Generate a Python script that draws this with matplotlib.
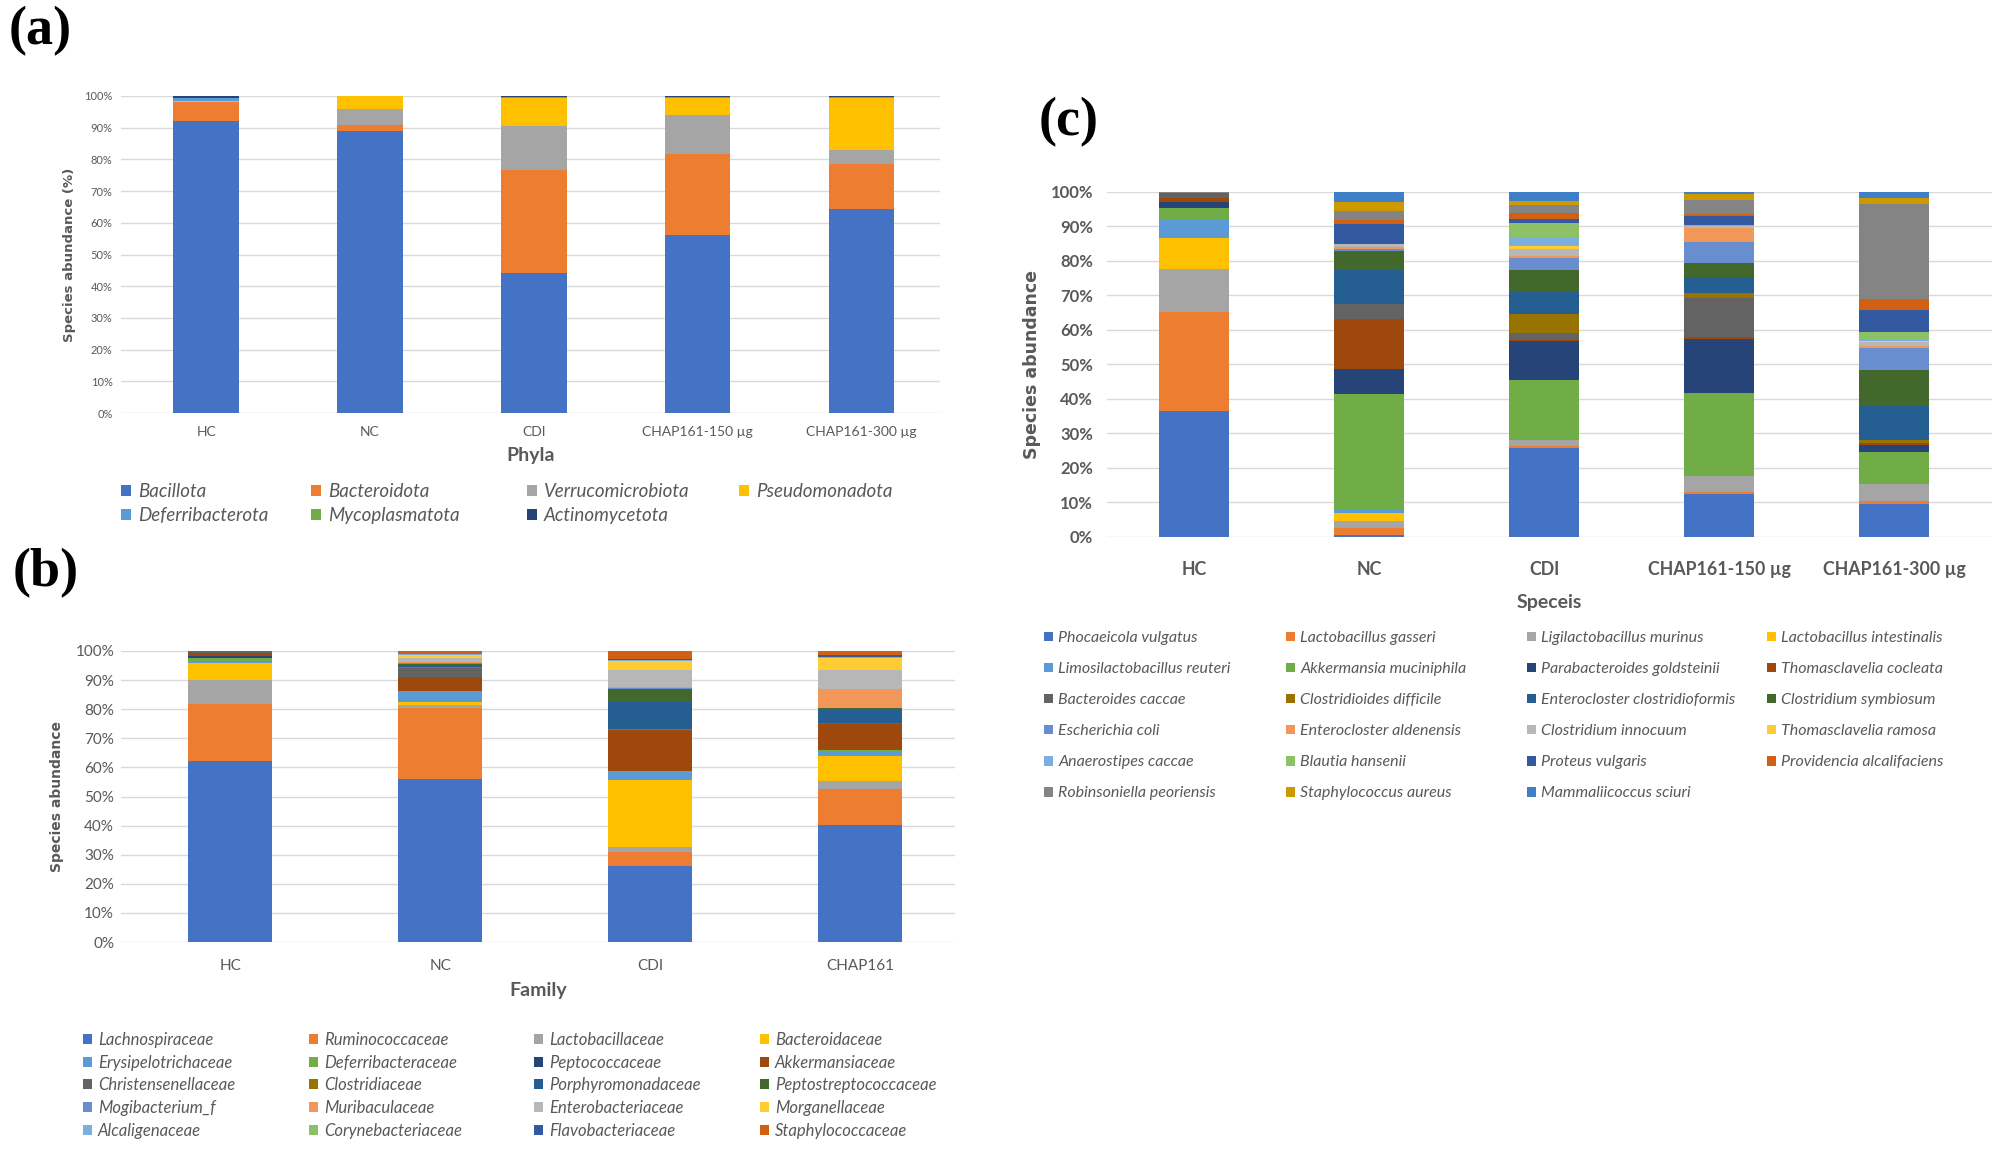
import numpy as np
import matplotlib.pyplot as plt
from matplotlib.patches import Patch

plt.rcParams['font.family'] = ['Lato', 'DejaVu Sans']

# ---------------- data ----------------
# (a) phyla, values per group in the order of phyla_names
phyla_groups = ['HC', 'NC', 'CDI', 'CHAP161-150 µg', 'CHAP161-300 µg']
phyla_names = ['Bacillota', 'Bacteroidota', 'Verrucomicrobiota', 'Pseudomonadota',
               'Deferribacterota', 'Mycoplasmatota', 'Actinomycetota']
phy_hc = [92.1, 6.0, 0.1, 0.1, 1.0, 0.2, 0.5]
phy_nc = [88.9, 1.9, 5.2, 3.9, 0.1, 0.0, 0.0]
phy_cdi = [44.1, 32.7, 13.7, 8.9, 0.3, 0.0, 0.3]
phy_150 = [56.1, 25.7, 12.1, 5.6, 0.2, 0.0, 0.3]
phy_300 = [64.2, 14.2, 4.5, 16.6, 0.2, 0.0, 0.3]

# (b) families
fam_groups = ['HC', 'NC', 'CDI', 'CHAP161']
fam_names = ['Lachnospiraceae', 'Ruminococcaceae', 'Lactobacillaceae', 'Bacteroidaceae',
             'Erysipelotrichaceae', 'Deferribacteraceae', 'Peptococcaceae', 'Akkermansiaceae',
             'Christensenellaceae', 'Clostridiaceae', 'Porphyromonadaceae', 'Peptostreptococcaceae',
             'Mogibacterium_f', 'Muribaculaceae', 'Enterobacteriaceae', 'Morganellaceae',
             'Alcaligenaceae', 'Corynebacteriaceae', 'Flavobacteriaceae', 'Staphylococcaceae']
fam_hc = [62.3, 19.5, 8.2, 5.8, 0.9, 0.8, 0.8, 0.9, 0.8, 0, 0, 0, 0, 0, 0, 0, 0, 0, 0, 0]
fam_nc = [56.2, 24.4, 1.1, 0.9, 3.4, 0.3, 0.2, 4.8, 3.2, 0.2, 0.8, 0.2, 0.3, 0.3,
          1.5, 1.1, 0.1, 0.0, 0.2, 1.0]
fam_cdi = [26.4, 4.6, 2.0, 23.2, 2.9, 0.1, 0.1, 14.0, 0.2, 0.1, 9.5, 4.6, 0.2, 0.2,
           6.1, 3.0, 0.3, 0.2, 0.2, 2.8]
fam_chap = [40.4, 12.4, 2.6, 8.8, 1.8, 0.1, 0.1, 9.0, 0.3, 0.1, 4.4, 0.5, 0.2, 6.4,
            6.5, 4.4, 0.3, 0.1, 0.4, 1.5]

# (c) species
sp_groups = ['HC', 'NC', 'CDI', 'CHAP161-150 µg', 'CHAP161-300 µg']
sp_names = ['Phocaeicola vulgatus', 'Lactobacillus gasseri', 'Ligilactobacillus murinus',
            'Lactobacillus intestinalis', 'Limosilactobacillus reuteri', 'Akkermansia muciniphila',
            'Parabacteroides goldsteinii', 'Thomasclavelia cocleata', 'Bacteroides caccae',
            'Clostridioides difficile', 'Enterocloster clostridioformis', 'Clostridium symbiosum',
            'Escherichia coli', 'Enterocloster aldenensis', 'Clostridium innocuum',
            'Thomasclavelia ramosa', 'Anaerostipes caccae', 'Blautia hansenii',
            'Proteus vulgaris', 'Providencia alcalifaciens', 'Robinsoniella peoriensis',
            'Staphylococcus aureus', 'Mammaliicoccus sciuri']
sp_hc = [36.5, 28.7, 12.6, 8.9, 5.4, 3.2, 1.7, 1.4, 1.2, 0, 0, 0, 0, 0, 0, 0, 0, 0,
         0.2, 0, 0.2, 0, 0]
sp_nc = [0.7, 1.9, 2.1, 2.4, 0.6, 33.8, 7.3, 14.5, 4.1, 0.0, 9.9, 5.5, 0.6, 0.7, 0.9,
         0.0, 0.0, 0.0, 5.8, 1.2, 2.5, 2.6, 2.9]
sp_cdi = [25.8, 0.6, 1.6, 0.2, 0.3, 17.1, 11.1, 0.5, 1.9, 5.6, 6.5, 6.1, 3.7, 0.5, 1.9,
          1.0, 2.3, 4.3, 1.1, 1.9, 2.1, 1.2, 2.7]
sp_150 = [12.4, 0.8, 4.4, 0.0, 0.4, 23.9, 15.6, 0.7, 11.2, 1.4, 4.8, 4.1, 6.0, 3.9, 0.6,
          0.2, 0.3, 0.0, 2.4, 0.8, 4.1, 1.5, 0.7]
sp_300 = [9.7, 0.6, 5.2, 0.0, 0.0, 9.1, 2.0, 0.6, 0.0, 0.8, 9.9, 10.4, 6.6, 0.5, 1.1,
          0.2, 0.4, 2.3, 6.5, 3.2, 27.5, 1.7, 1.7]

# ---------------- style ----------------
office = ['#4472C4', '#ED7D31', '#A5A5A5', '#FFC000', '#5B9BD5', '#70AD47',
          '#264478', '#9E480E', '#636363', '#997300', '#255E91', '#43682B',
          '#698ED0', '#F1975A', '#B7B7B7', '#FFCD33', '#7CAFDD', '#8CC168',
          '#335AA1', '#D26012', '#848484', '#CC9A00', '#3F7FC7']
txt = '#595959'
W, H = 1992, 1152


def stacked(ax, groups, cols, colors, width=0.4):
    data = np.array(cols, dtype=float).T
    data = data / data.sum(axis=0) * 100
    x = np.arange(len(groups))
    bottom = np.zeros(len(groups))
    for i in range(data.shape[0]):
        ax.bar(x, data[i], width, bottom=bottom, color=colors[i], linewidth=0, zorder=3)
        bottom += data[i]
    ax.set_ylim(0, 100)
    ax.set_yticks(np.arange(0, 101, 10))
    ax.set_yticklabels(['%d%%' % v for v in range(0, 101, 10)])
    ax.set_xticks(x)
    ax.set_xticklabels(groups)
    ax.grid(axis='y', color='#D9D9D9', linewidth=1.0, zorder=0)
    for s in ax.spines.values():
        s.set_visible(False)
    ax.tick_params(length=0, colors=txt)


def legend_grid(fig, names, colors, xs, ytop, fs, spacing):
    # Excel style legend: filled row by row, evenly spaced columns
    ncol = len(xs)
    for c in range(ncol):
        idx = list(range(c, len(names), ncol))
        hs = [Patch(facecolor=colors[i], edgecolor='none') for i in idx]
        fig.legend(hs, [names[i] for i in idx], loc='upper left',
                   bbox_to_anchor=(xs[c], ytop), frameon=False,
                   handlelength=0.55, handleheight=0.55, handletextpad=0.35,
                   labelspacing=spacing, borderpad=0, borderaxespad=0,
                   prop={'style': 'italic', 'size': fs}, labelcolor=txt)


fig = plt.figure(figsize=(W / 100, H / 100), dpi=100)

# ---- (a)
ax_a = fig.add_axes([121 / W, 1 - 413 / H, 819 / W, 317 / H])
stacked(ax_a, phyla_groups, [phy_hc, phy_nc, phy_cdi, phy_150, phy_300], office)
ax_a.set_xlim(-0.52, 4.48)
ax_a.tick_params(axis='y', labelsize=8, pad=6)
ax_a.tick_params(axis='x', labelsize=10, pad=9)
ax_a.set_xlabel('Phyla', fontsize=14, fontweight='bold', color=txt, labelpad=7)
ax_a.set_ylabel('Species abundance (%)', fontsize=9.5, fontweight='bold', color=txt,
                family='DejaVu Sans', labelpad=6)
legend_grid(fig, phyla_names, office, [121 / W, 311 / W, 527 / W, 739 / W],
            1 - 483 / H, 13.5, 0.39)

# ---- (b)
ax_b = fig.add_axes([121 / W, 1 - 942 / H, 834 / W, 291 / H])
stacked(ax_b, fam_groups, [fam_hc, fam_nc, fam_cdi, fam_chap], office)
ax_b.set_xlim(-0.52, 3.45)
ax_b.tick_params(axis='y', labelsize=11, pad=5)
ax_b.tick_params(axis='x', labelsize=11, pad=12)
ax_b.set_xlabel('Family', fontsize=14, fontweight='bold', color=txt, labelpad=7)
ax_b.set_ylabel('Species abundance', fontsize=10, fontweight='bold', color=txt,
                family='DejaVu Sans', labelpad=8)
legend_grid(fig, fam_names, office, [83 / W, 309 / W, 534 / W, 760 / W],
            1 - 1032 / H, 12, 0.4)

# ---- (c)
ax_c = fig.add_axes([1107 / W, 1 - 537 / H, 885 / W, 345 / H])
stacked(ax_c, sp_groups, [sp_hc, sp_nc, sp_cdi, sp_150, sp_300], office)
ax_c.set_xlim(-0.5, 4.56)
ax_c.tick_params(axis='y', labelsize=12, pad=10)
ax_c.tick_params(axis='x', labelsize=12.8, pad=17)
for t in ax_c.get_xticklabels() + ax_c.get_yticklabels():
    t.set_fontweight('bold')
ax_c.set_xlabel('Speceis', fontsize=14, fontweight='bold', color=txt, labelpad=12)
ax_c.set_ylabel('Species abundance', fontsize=12.5, fontweight='bold', color=txt,
                family='DejaVu Sans', labelpad=7)
legend_grid(fig, sp_names, office, [1044 / W, 1286 / W, 1527 / W, 1767 / W],
            1 - 631 / H, 11.5, 1.07)

# panel letters
for lab, x, y in [('(a)', 9, 6), ('(b)', 13, 548), ('(c)', 1039, 97)]:
    fig.text(x / W, 1 - y / H, lab, fontsize=39, fontweight='bold', va='top',
             family='Liberation Serif')

fig.savefig('out.png', dpi=100)
